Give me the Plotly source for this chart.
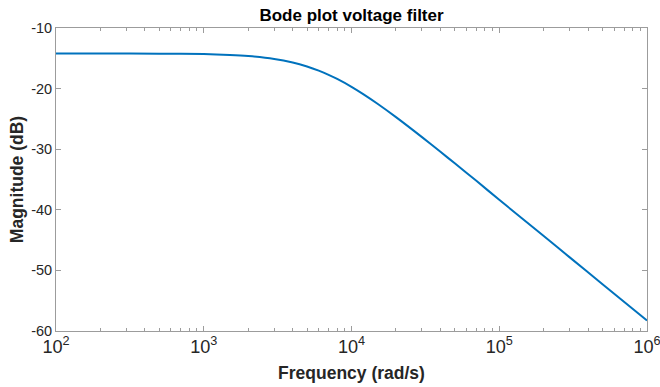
import plotly.graph_objects as go

# Values
freq_rad_s = [100, 200, 500, 1000, 1500, 2000, 3000, 4000, 5000, 6000, 7000,
              8000, 10000, 12000, 15000, 20000, 30000, 40000, 50000, 70000,
              100000, 200000, 300000, 500000, 1000000]
magnitude_db = [-14.20, -14.20, -14.23, -14.31, -14.44, -14.62, -15.10, -15.69,
                -16.35, -17.04, -17.73, -18.41, -19.71, -20.91, -22.50, -24.71,
                -28.01, -30.43, -32.33, -35.22, -38.35, -44.33, -47.85, -52.27,
                -58.28]

y_ticks = [-60, -50, -40, -30, -20, -10]
y_tick_labels = ["-60", "-50", "-40", "-30", "-20", "-10"]
x_range_log = [2, 6]

axis_color = "#9c9c9c"
text_color = "#262626"
font_family = "Arial, Liberation Sans, Helvetica, sans-serif"

fig = go.Figure()
fig.add_trace(go.Scatter(
    x=freq_rad_s, y=magnitude_db, mode="lines",
    line=dict(color="#0072BD", width=2, shape="spline", smoothing=0.6),
    showlegend=False, hoverinfo="x+y"))

fig.update_layout(
    width=660, height=387,
    margin=dict(l=56, r=13, t=28, b=56, autoexpand=False),
    paper_bgcolor="white", plot_bgcolor="white",
    font=dict(family=font_family, size=14, color=text_color),
    title=dict(text="<b>Bode plot voltage filter</b>", x=0.5, xref="paper",
               xanchor="center", y=1 - 15.5 / 387, yref="container",
               yanchor="middle", font=dict(size=17, color="#000000")),
)

fig.update_xaxes(
    type="log", range=x_range_log, dtick=1, exponentformat="power",
    ticklabeloverflow="allow", automargin=False,
    showline=True, linecolor=axis_color, linewidth=1, mirror="ticks",
    ticks="inside", ticklen=5, tickcolor=axis_color, tickwidth=1,
    minor=dict(ticks="inside", ticklen=3, tickcolor=axis_color, dtick="D1", showgrid=False),
    showgrid=False, zeroline=False,
    tickfont=dict(size=14.5, color=text_color),
    title=dict(text="<b>Frequency (rad/s)</b>", font=dict(size=17.5, color=text_color), standoff=10),
)
fig.update_yaxes(
    range=[-60, -10], tickvals=y_ticks, ticktext=y_tick_labels, automargin=False,
    showline=True, linecolor=axis_color, linewidth=1, mirror="ticks",
    ticks="inside", ticklen=5, tickcolor=axis_color, tickwidth=1,
    showgrid=False, zeroline=False,
    tickfont=dict(size=14.5, color=text_color),
    title=dict(text="<b>Magnitude (dB)</b>", font=dict(size=17.5, color=text_color), standoff=3),
)

fig.write_html("out.html")
